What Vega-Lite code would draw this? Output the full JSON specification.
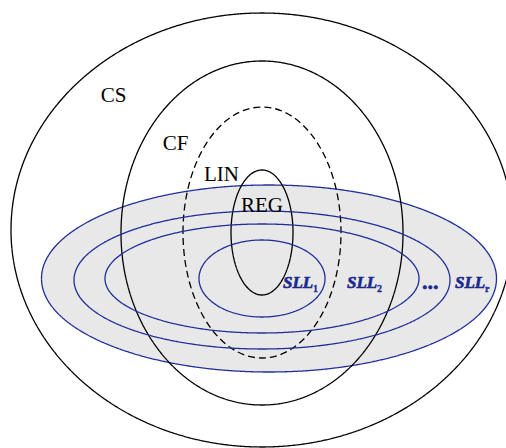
{
  "$schema": "https://vega.github.io/schema/vega-lite/v6.json",
  "width": 506,
  "height": 448,
  "autosize": "none",
  "padding": 0,
  "background": "white",
  "config": {"view": {"stroke": null}},
  "datasets": {
    "ellipses": [
      {"name": "SLLr", "cx": 269, "cy": 278.5, "rx": 227.5, "ry": 93.5},
      {"name": "CS", "cx": 262, "cy": 230, "rx": 251, "ry": 217},
      {"name": "CF", "cx": 262, "cy": 233, "rx": 141, "ry": 172},
      {"name": "LIN", "cx": 262, "cy": 232.5, "rx": 79, "ry": 125.5},
      {"name": "REG", "cx": 262, "cy": 232.5, "rx": 31, "ry": 62.5},
      {"name": "SLL3", "cx": 262, "cy": 280, "rx": 188, "ry": 69},
      {"name": "SLL2", "cx": 262, "cy": 278.5, "rx": 157, "ry": 54.5},
      {"name": "SLL1", "cx": 262, "cy": 278.5, "rx": 63, "ry": 38.5}
    ],
    "sets": [
      {"label": "CS", "x": 113.5, "y": 102},
      {"label": "CF", "x": 175.5, "y": 150},
      {"label": "LIN", "x": 221.5, "y": 181},
      {"label": "REG", "x": 262, "y": 212}
    ],
    "sll": [
      {"label": "SLL", "x": 283, "y": 288},
      {"label": "SLL", "x": 347, "y": 288},
      {"label": "SLL", "x": 455, "y": 288}
    ],
    "dots": [
      {"label": "...", "x": 422, "y": 289}
    ],
    "subs": [
      {"label": "1", "x": 313, "y": 292},
      {"label": "2", "x": 377, "y": 292},
      {"label": "r", "x": 485, "y": 292}
    ]
  },
  "layer": [
    {
      "data": {"name": "ellipses"},
      "transform": [{"filter": "datum.name === 'SLLr'"}],
      "mark": {"type": "point", "filled": true, "fill": "#e8e8e8", "fillOpacity": 1, "strokeWidth": 0, "opacity": 1},
      "encoding": {
        "x": {"field": "cx", "type": "quantitative", "scale": {"domain": [0, 506], "nice": false, "zero": false}, "axis": null},
        "y": {"field": "cy", "type": "quantitative", "scale": {"domain": [0, 448], "nice": false, "zero": false, "reverse": true}, "axis": null},
        "size": {"field": "rx", "type": "quantitative", "scale": {"type": "pow", "exponent": 2, "domain": [0, 300], "range": [0, 360000]}, "legend": null},
        "shape": {"field": "name", "type": "nominal", "legend": null,
          "scale": {
            "domain": ["SLLr", "CS", "CF", "LIN", "REG", "SLL3", "SLL2", "SLL1"],
            "range": [
              "M-1 0C-1 -0.227 -0.5523 -0.411 0 -0.411C0.5523 -0.411 1 -0.227 1 0C1 0.227 0.5523 0.411 0 0.411C-0.5523 0.411 -1 0.227 -1 0Z",
              "M-1 0C-1 -0.4775 -0.5523 -0.8645 0 -0.8645C0.5523 -0.8645 1 -0.4775 1 0C1 0.4775 0.5523 0.8645 0 0.8645C-0.5523 0.8645 -1 0.4775 -1 0Z",
              "M-1 0C-1 -0.6737 -0.5523 -1.2199 0 -1.2199C0.5523 -1.2199 1 -0.6737 1 0C1 0.6737 0.5523 1.2199 0 1.2199C-0.5523 1.2199 -1 0.6737 -1 0Z",
              "M-1 0C-1 -0.8774 -0.5523 -1.5886 0 -1.5886C0.5523 -1.5886 1 -0.8774 1 0C1 0.8774 0.5523 1.5886 0 1.5886C-0.5523 1.5886 -1 0.8774 -1 0Z",
              "M-1 0C-1 -1.1135 -0.5523 -2.0161 0 -2.0161C0.5523 -2.0161 1 -1.1135 1 0C1 1.1135 0.5523 2.0161 0 2.0161C-0.5523 2.0161 -1 1.1135 -1 0Z",
              "M-1 0C-1 -0.2027 -0.5523 -0.367 0 -0.367C0.5523 -0.367 1 -0.2027 1 0C1 0.2027 0.5523 0.367 0 0.367C-0.5523 0.367 -1 0.2027 -1 0Z",
              "M-1 0C-1 -0.1917 -0.5523 -0.3471 0 -0.3471C0.5523 -0.3471 1 -0.1917 1 0C1 0.1917 0.5523 0.3471 0 0.3471C-0.5523 0.3471 -1 0.1917 -1 0Z",
              "M-1 0C-1 -0.3375 -0.5523 -0.6111 0 -0.6111C0.5523 -0.6111 1 -0.3375 1 0C1 0.3375 0.5523 0.6111 0 0.6111C-0.5523 0.6111 -1 0.3375 -1 0Z"
            ]
          }
        }
      }
    },
    {
      "data": {"name": "ellipses"},
      "mark": {"type": "point", "filled": false, "strokeWidth": 1.3, "opacity": 1},
      "encoding": {
        "x": {"field": "cx", "type": "quantitative", "scale": {"domain": [0, 506], "nice": false, "zero": false}, "axis": null},
        "y": {"field": "cy", "type": "quantitative", "scale": {"domain": [0, 448], "nice": false, "zero": false, "reverse": true}, "axis": null},
        "size": {"field": "rx", "type": "quantitative", "scale": {"type": "pow", "exponent": 2, "domain": [0, 300], "range": [0, 360000]}, "legend": null},
        "shape": {"field": "name", "type": "nominal", "legend": null},
        "stroke": {"field": "name", "type": "nominal", "legend": null,
          "scale": {
            "domain": ["SLLr", "CS", "CF", "LIN", "REG", "SLL3", "SLL2", "SLL1"],
            "range": ["#1f2f99", "#000000", "#000000", "#000000", "#000000", "#1f2f99", "#1f2f99", "#1f2f99"]
          }
        },
        "strokeDash": {"field": "name", "type": "nominal", "legend": null,
          "scale": {
            "domain": ["SLLr", "CS", "CF", "LIN", "REG", "SLL3", "SLL2", "SLL1"],
            "range": [[1, 0], [1, 0], [1, 0], [7, 4], [1, 0], [1, 0], [1, 0], [1, 0]]
          }
        }
      }
    },
    {
      "data": {"name": "sets"},
      "mark": {"type": "text", "font": "Liberation Serif", "fontSize": 21, "color": "#000000", "align": "center", "baseline": "alphabetic"},
      "encoding": {
        "x": {"field": "x", "type": "quantitative"},
        "y": {"field": "y", "type": "quantitative"},
        "text": {"field": "label"}
      }
    },
    {
      "data": {"name": "sll"},
      "mark": {"type": "text", "font": "Liberation Serif", "fontSize": 17, "fontWeight": "bold", "fontStyle": "italic", "fill": "#1a2a8c", "stroke": "#1a2a8c", "strokeWidth": 0.6, "align": "left", "baseline": "alphabetic"},
      "encoding": {
        "x": {"field": "x", "type": "quantitative"},
        "y": {"field": "y", "type": "quantitative"},
        "text": {"field": "label"}
      }
    },
    {
      "data": {"name": "dots"},
      "mark": {"type": "text", "font": "Liberation Serif", "fontSize": 22, "fontWeight": "bold", "fill": "#1a2a8c", "stroke": "#1a2a8c", "strokeWidth": 0.6, "align": "left", "baseline": "alphabetic"},
      "encoding": {
        "x": {"field": "x", "type": "quantitative"},
        "y": {"field": "y", "type": "quantitative"},
        "text": {"field": "label"}
      }
    },
    {
      "data": {"name": "subs"},
      "mark": {"type": "text", "font": "Liberation Serif", "fontSize": 10, "fontWeight": "bold", "fill": "#1a2a8c", "stroke": "#1a2a8c", "strokeWidth": 0.3, "align": "left", "baseline": "alphabetic"},
      "encoding": {
        "x": {"field": "x", "type": "quantitative"},
        "y": {"field": "y", "type": "quantitative"},
        "text": {"field": "label"}
      }
    }
  ]
}
